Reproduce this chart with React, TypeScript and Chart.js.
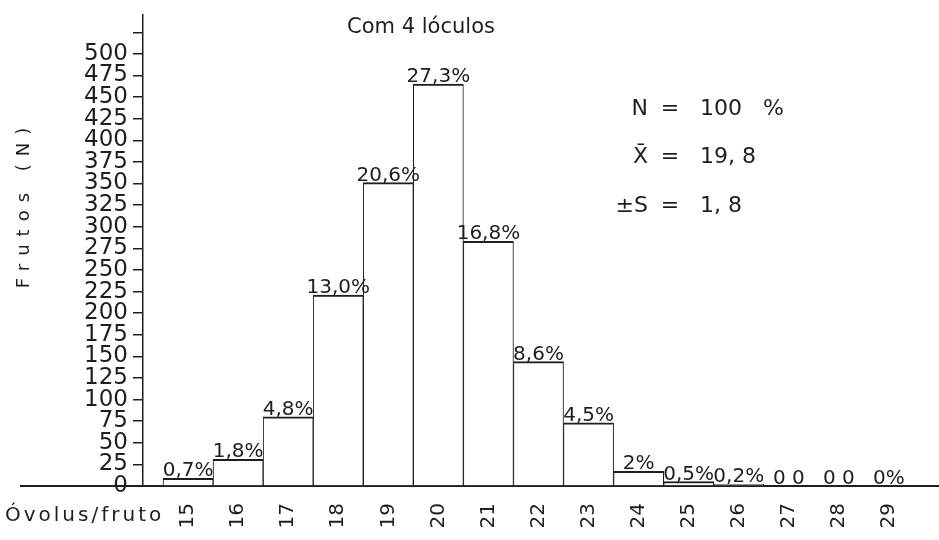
import React, { useEffect, useRef } from "react";
import { Chart, registerables } from "chart.js";

Chart.register(...registerables);

// ---- data ----
const categories = [15, 16, 17, 18, 19, 20, 21, 22, 23, 24, 25, 26, 27, 28, 29];
const frutos = [9, 31, 80, 221, 351, 465, 283, 144, 73, 17, 5, 2, 0, 0, 0];
const percentLabels = [
  "0,7%", "1,8%", "4,8%", "13,0%", "20,6%", "27,3%", "16,8%", "8,6%",
  "4,5%", "2%", "0,5%", "0,2%", "0 0", "0 0", "0%",
];
const yTickValues = [0, 25, 50, 75, 100, 125, 150, 175, 200, 225, 250, 275, 300, 325, 350, 375, 400, 425, 450, 475, 500, 525];
const yTickLabels = ["0", "25", "50", "75", "100", "125", "150", "175", "200", "225", "250", "275", "300", "325", "350", "375", "400", "425", "450", "475", "500", ""];
const statLabels = ["N", "X\u0304", "\u00B1S"];
const statValues = ["100   %", "19, 8", "1, 8"];
const chartTitle = "Com 4 lóculos";
const yAxisTitle = "Frutos (N)";
const xAxisLabel = "Óvolus/fruto";

const INK = "#1e1e1e";
const FONT = "'DejaVu Sans', sans-serif";

const annotations = {
  id: "annotations",
  afterDraw(chart: any) {
    const { ctx, chartArea, scales } = chart;
    const y0 = scales.y.getPixelForValue(0);
    ctx.save();
    // baseline extension to the left of the y axis
    ctx.strokeStyle = INK;
    ctx.lineWidth = 2;
    ctx.beginPath();
    ctx.moveTo(20, y0);
    ctx.lineTo(chartArea.left, y0);
    ctx.stroke();

    ctx.fillStyle = INK;
    // title
    ctx.font = `21px ${FONT}`;
    ctx.textAlign = "center";
    ctx.textBaseline = "alphabetic";
    ctx.fillText(chartTitle, 421, 33);

    // y axis title (letter-spaced, rotated)
    ctx.save();
    ctx.translate(24, 208);
    ctx.rotate(-Math.PI / 2);
    ctx.font = `18px ${FONT}`;
    ctx.textAlign = "center";
    ctx.textBaseline = "middle";
    (ctx as any).letterSpacing = "8px";
    ctx.fillText(yAxisTitle, 4, 0);
    (ctx as any).letterSpacing = "0px";
    ctx.restore();

    // x axis caption
    ctx.font = `20px ${FONT}`;
    ctx.textAlign = "left";
    ctx.textBaseline = "alphabetic";
    (ctx as any).letterSpacing = "3px";
    ctx.fillText(xAxisLabel, 5, 521);
    (ctx as any).letterSpacing = "0px";

    // percent labels above bars
    const meta = chart.getDatasetMeta(0);
    ctx.font = `20px ${FONT}`;
    ctx.textAlign = "center";
    meta.data.forEach((bar: any, i: number) => {
      const { x, y } = bar.getProps(["x", "y"], true);
      ctx.fillText(percentLabels[i], x, y - 2);
    });

    // statistics block
    ctx.font = `22px ${FONT}`;
    const baselines = [115, 163, 212];
    statLabels.forEach((lab, i) => {
      ctx.textAlign = "right";
      ctx.fillText(lab, 648, baselines[i]);
      ctx.textAlign = "center";
      ctx.fillText("=", 670, baselines[i]);
      ctx.textAlign = "left";
      ctx.fillText(statValues[i], 700, baselines[i]);
    });
    ctx.restore();
  },
};

export default function App() {
  const ref = useRef<HTMLCanvasElement | null>(null);

  useEffect(() => {
    if (!ref.current) return;
    const chart = new Chart(ref.current, {
      type: "bar",
      data: {
        datasets: [
          {
            data: categories.map((c, i) => ({ x: c, y: frutos[i] })),
            backgroundColor: "#ffffff",
            borderColor: INK,
            borderWidth: { top: 2, left: 1, right: 1, bottom: 0 },
            borderSkipped: false,
            barPercentage: 1,
            categoryPercentage: 1,
          },
        ],
      },
      options: {
        animation: false,
        responsive: true,
        maintainAspectRatio: false,
        layout: { padding: { top: 15, right: 0, bottom: 0, left: 0 } },
        plugins: {
          legend: { display: false },
          tooltip: { enabled: false },
          title: { display: false },
        },
        scales: {
          x: {
            type: "linear",
            min: 14.1,
            max: 30,
            offset: false,
            grid: { display: false, drawTicks: false, offset: false },
            border: { display: true, color: INK, width: 2 },
            afterBuildTicks: (scale: any) => {
              scale.ticks = categories.map((v) => ({ value: v }));
            },
            afterFit: (scale: any) => {
              scale.height = 54;
              scale.paddingLeft = 0;
              scale.paddingRight = 0;
            },
            ticks: {
              autoSkip: false,
              minRotation: 90,
              maxRotation: 90,
              padding: 17,
              color: INK,
              font: { family: FONT, size: 20 },
              callback: (_v: any, i: number) => String(categories[i]),
            },
          },
          y: {
            type: "linear",
            min: 0,
            max: 545,
            grid: {
              display: true,
              drawOnChartArea: false,
              drawTicks: true,
              tickLength: 10,
              color: INK,
              lineWidth: 1.5,
            },
            border: { display: true, color: INK, width: 1.5 },
            afterBuildTicks: (scale: any) => {
              scale.ticks = yTickValues.map((v) => ({ value: v }));
            },
            afterFit: (scale: any) => {
              scale.width = 143;
              scale.paddingTop = 0;
              scale.paddingBottom = 0;
            },
            title: { display: false },
            ticks: {
              autoSkip: false,
              padding: 5,
              color: INK,
              font: { family: FONT, size: 23 },
              callback: (_v: any, i: number) => yTickLabels[i],
            },
          },
        },
      },
      plugins: [annotations],
    } as any);
    return () => chart.destroy();
  }, []);

  return (
    <div style={{ position: "absolute", left: 0, top: 0, width: 939, height: 540, background: "#fff" }}>
      <canvas ref={ref} />
    </div>
  );
}
